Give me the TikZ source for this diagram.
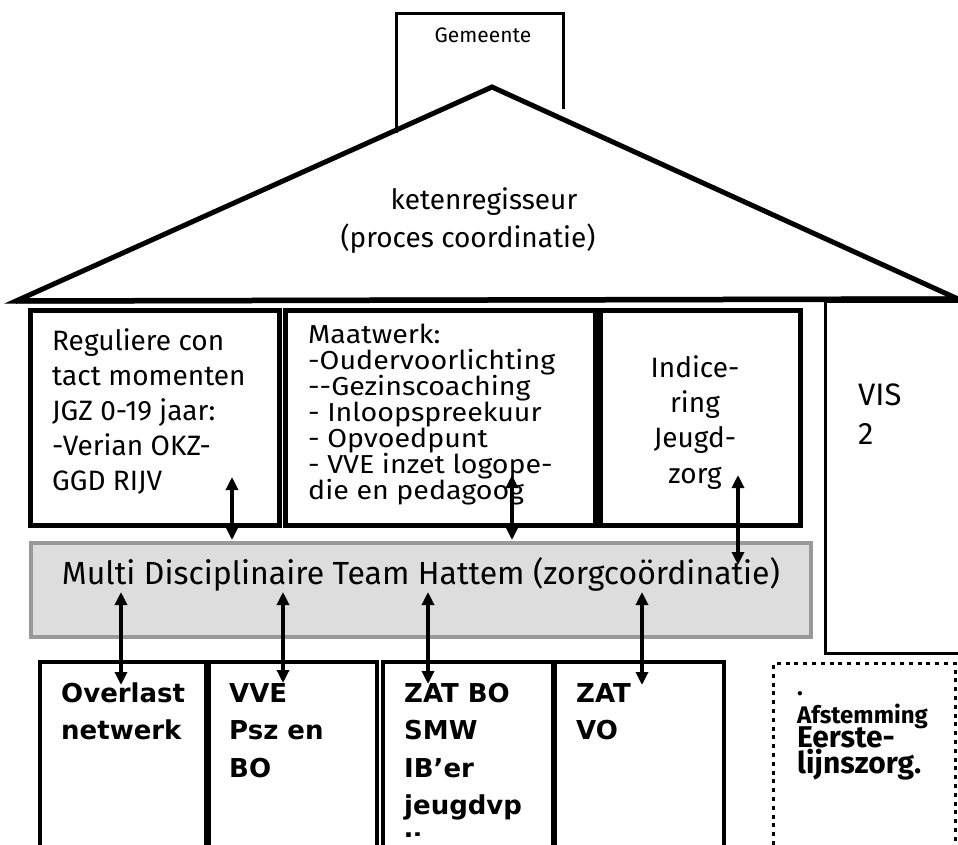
\documentclass[tikz,border=0pt]{standalone}
\usepackage{fontspec}
\setmainfont{Fira Sans}
\newfontfamily\firawide{Fira Sans}[FakeStretch=1.1]
\newfontfamily\dejavu{DejaVu Sans}
\usepackage{tikz}
\usepackage{xcolor}
\usetikzlibrary{arrows.meta, positioning}
\definecolor{MDTGrey}{HTML}{DDDDDD}
\definecolor{MDTBorder}{HTML}{999999}

\begin{document}
\begin{tikzpicture}[x=1pt, y=-1pt, on grid, inner sep=0pt,
    roofline/.style={line width=5pt, line join=miter},
    chimneyline/.style={line width=3pt},
    topbox/.style={rectangle, draw, line width=5.5pt, minimum height=215pt},
    lowbox/.style={rectangle, draw, line width=3.5pt, minimum height=208pt},
    dotbox/.style={rectangle, draw, line width=3.5pt, dash pattern=on 4pt off 4.8pt},
    boxtext/.style={anchor=base west, align=left},
    lowtext/.style={boxtext, font=\dejavu\bfseries\fontsize{26}{37.5}\selectfont},
    link/.style={{Triangle[length=13pt,width=12pt]}-{Triangle[length=13pt,width=12pt]}, line width=3.2pt}]

        \useasboundingbox (0,0) rectangle (958,845);

        % roof and chimney (text anchors sit on the last line)
        \draw[roofline] (16,301) -- (492,87) -- (958,299) -- cycle;
        \draw[line width=5.5pt] (16,301) -- (958,299);
        \draw[chimneyline] (396,133) -- (396,14) -- (563,14) -- (563,109);
        \node[anchor=base, font=\fontsize{21}{24}\selectfont] (gemeente) at (483,43) {Gemeente};
        \node[anchor=base, font=\fontsize{28}{32}\selectfont] (keten) at (484,210) {ketenregisseur};
        \node[anchor=base, font=\fontsize{28}{32}\selectfont] (proces) at (468,247) {(proces coordinatie)};

        % upper row
        \node[topbox, minimum width=249pt] (reg) at (155,418) {};
        \node[topbox, minimum width=310pt, right=285.5pt of reg] (maat) {};
        \node[topbox, minimum width=200pt, right=260pt of maat] (indic) {};
        \node[rectangle, draw, line width=3pt, minimum width=139.5pt, minimum height=352pt] (vis) at (895.25,477) {};

        \node[boxtext, font=\fontsize{28}{35}\selectfont] (regtext) at (52,490)
            {Reguliere con\\tact momenten\\JGZ 0-19 jaar:\\-Verian OKZ-\\GGD RIJV};
        \node[boxtext, font=\firawide\fontsize{26}{26}\selectfont] (maattext) at (308,499)
            {Maatwerk:\\-Oudervoorlichting\\-{}-Gezinscoaching\\- Inloopspreekuur\\- Opvoedpunt\\- VVE inzet logope-\\die en pedagoog};
        \node[anchor=base, align=center, font=\fontsize{28}{35.3}\selectfont] (indictext) at (695,483)
            {Indice-\\ring\\Jeugd-\\zorg};
        \node[boxtext, font=\fontsize{31}{39}\selectfont] (vistext) at (858,444) {VIS\\2};

        % zorgcoordinatie
        \node[rectangle, draw=MDTBorder, fill=MDTGrey, line width=4pt, minimum width=780pt, minimum height=94pt] (mdt) at (421,590) {};
        \node[anchor=base, font=\fontsize{32}{36}\selectfont] (mdttext) at (421,584)
            {Multi Disciplinaire Team Hattem (zorgcoördinatie)};

        % lower row
        \node[lowbox, minimum width=166pt] (overlast) at (123,766) {};
        \node[lowbox, minimum width=168pt, right=170pt of overlast] (vve) {};
        \node[lowbox, minimum width=169.5pt, right=174.75pt of vve] (zatbo) {};
        \node[lowbox, minimum width=169pt, right=171.75pt of zatbo] (zatvo) {};
        \node[dotbox, minimum width=182pt, minimum height=206.5pt] (afst) at (864.5,766.75) {};

        \node[lowtext] (overlasttext) at (61,739.5) {Overlast\\netwerk};
        \node[lowtext] (vvetext) at (229,777) {VVE\\Psz en\\BO};
        \begin{scope}
            \clip (385,664) rectangle (551,836);
            \node[lowtext] (zatbotext) at (404,852) {ZAT BO\\SMW\\IB’er\\jeugdvp\\li};
        \end{scope}
        \node[lowtext] (zatvotext) at (576,739.5) {ZAT\\VO};
        \node[boxtext, font=\bfseries\fontsize{24}{28}\selectfont] (afsttext) at (797,723) {.\\Afstemming};
        \node[boxtext, font=\bfseries\fontsize{30}{26}\selectfont] (eerstetext) at (797,773) {Eerste-\\lijnszorg.};

        % arrow ends
        \coordinate (regtip) at (232,477);
        \coordinate (regbar) at (232,540);
        \coordinate (maattip) at (512,475);
        \coordinate (maatbar) at (512,540);
        \coordinate (indictip) at (738,475);
        \coordinate (indicbar) at (738,565);
        \coordinate (baroverlast) at (121,592);
        \coordinate (overlasttip) at (121,685);
        \coordinate (barvve) at (283,592);
        \coordinate (vvetip) at (283,683);
        \coordinate (barzatbo) at (428,592);
        \coordinate (zatbotip) at (428,684);
        \coordinate (barzatvo) at (642,592);
        \coordinate (zatvotip) at (642,685);

        \path[link]
        (regtip) edge[] (regbar)
        (maattip) edge[] (maatbar)
        (indictip) edge[] (indicbar)
        (baroverlast) edge[] (overlasttip)
        (barvve) edge[] (vvetip)
        (barzatbo) edge[] (zatbotip)
        (barzatvo) edge[] (zatvotip);

\end{tikzpicture}
\end{document}
